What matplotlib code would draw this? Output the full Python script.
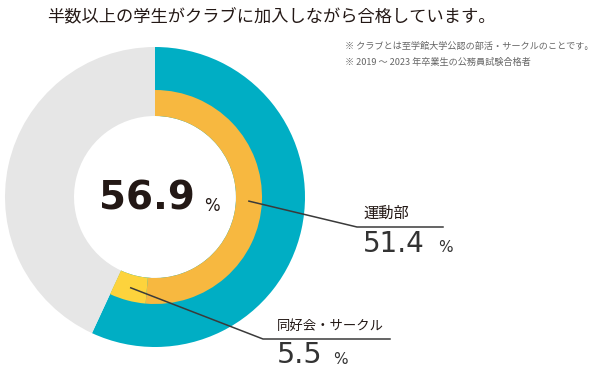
import numpy as np
import matplotlib.pyplot as plt

plt.rcParams['font.family'] = ['Noto Sans CJK JP', 'DejaVu Sans']

# data
title = "半数以上の学生がクラブに加入しながら合格しています。"
notes = ["※ クラブとは至学館大学公認の部活・サークルのことです。",
         "※ 2019 ～ 2023 年卒業生の公務員試験合格者"]
total_pct = 56.9
inner_labels = ["運動部", "同好会・サークル"]
inner_pct = [51.4, 5.5]

TEAL = "#00AEC4"
GRAY = "#E6E6E6"
ORANGE = "#F7B840"
YELLOW = "#FDD33C"
INK = "#231815"
LINE = "#3a3a3a"

H = 373
cx, cy = 155, H - 197
r_out, r_mid, r_in = 150, 107, 81

fig = plt.figure(figsize=(6.0, 3.73), dpi=100)
ax = fig.add_axes([0, 0, 1, 1])

ax.pie([total_pct, 100 - total_pct], colors=[TEAL, GRAY], radius=r_out,
       center=(cx, cy), startangle=90, counterclock=False,
       wedgeprops=dict(width=r_out - r_in, linewidth=0))
rest = 100 - sum(inner_pct)
ax.pie(inner_pct + [rest], colors=[ORANGE, YELLOW, "none"], radius=r_mid,
       center=(cx, cy), startangle=90, counterclock=False,
       wedgeprops=dict(width=r_mid - r_in, linewidth=0))

ax.set_xlim(0, 600)
ax.set_ylim(0, H)
ax.set_aspect("auto")
ax.axis("off")

# title and notes
ax.text(271, H - 17, title, ha="center", va="center", fontsize=12.4, color=INK)
ax.text(345, H - 47, notes[0], ha="left", va="center", fontsize=6.6, color="#666666")
ax.text(345, H - 62, notes[1], ha="left", va="center", fontsize=6.6, color="#666666")

# center value
ax.text(99, H - 199, f"{total_pct}", ha="left", va="center", fontsize=28,
        color=INK, family="DejaVu Sans", fontweight="bold")
ax.text(204, H - 206, "%", ha="left", va="center", fontsize=12,
        color=INK, family="DejaVu Sans")

# leader lines from mid-angle of each inner slice
starts = np.cumsum([0] + inner_pct[:-1])
mids = [(s + p / 2) * 3.6 for s, p in zip(starts, inner_pct)]
bends = [(357, H - 227), (263, H - 339)]
ends = [443, 390]
text_x = [363, 277]
for k in range(2):
    a = np.deg2rad(mids[k])
    x0, y0 = cx + 94 * np.sin(a), cy + 94 * np.cos(a)
    bx, by = bends[k]
    ax.plot([x0, bx, ends[k]], [y0, by, by], color=LINE, lw=1.1,
            solid_joinstyle="miter")

# labels
ax.text(text_x[0], H - 213, inner_labels[0], ha="left", va="center",
        fontsize=11, color=INK)
ax.text(text_x[0], H - 244.5, f"{inner_pct[0]}", ha="left", va="center",
        fontsize=20, color="#333333", family="DejaVu Sans")
ax.text(438, H - 248, "%", ha="left", va="center", fontsize=11,
        color="#333333", family="DejaVu Sans")

ax.text(text_x[1], H - 326, inner_labels[1], ha="left", va="center",
        fontsize=9.6, color=INK)
ax.text(text_x[1], H - 355, f"{inner_pct[1]}", ha="left", va="center",
        fontsize=20.5, color="#333333", family="DejaVu Sans")
ax.text(333, H - 359, "%", ha="left", va="center", fontsize=11,
        color="#333333", family="DejaVu Sans")

fig.savefig("out.png", dpi=100)
